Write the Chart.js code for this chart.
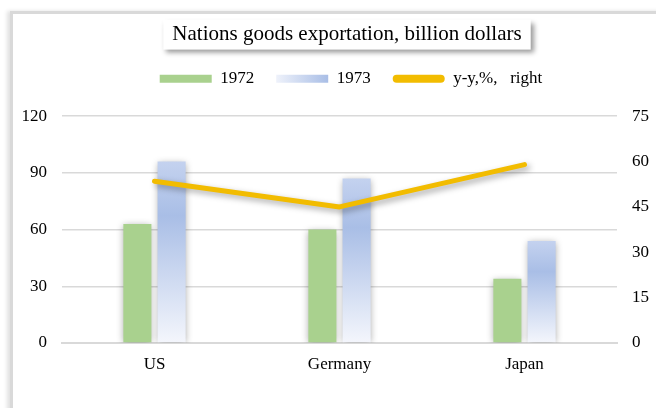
<!DOCTYPE html>
<html>
<head>
<meta charset="utf-8">
<script src="https://cdn.jsdelivr.net/npm/chart.js"></script>
<style>
  html, body { margin: 0; padding: 0; background: #fff; }
  #wrap { position: relative; width: 656px; height: 408px; overflow: hidden; }
  #frame {
    position: absolute; left: 10px; top: 11px; width: 700px; height: 500px;
    border-left: 3px solid #d9d9d9; border-top: 3px solid #d9d9d9;
    box-shadow: -3px 0 4px rgba(0,0,0,0.12);
  }
  canvas { position: absolute; left: 0; top: 0; }
</style>
</head>
<body>
<div id="wrap">
  <div id="frame"></div>
  <canvas id="chart" width="656" height="408"></canvas>
</div>
<script>
const categories = ['US', 'Germany', 'Japan'];
const exports1972 = [63, 60, 34];
const exports1973 = [96, 87, 54];
const yoyPercent = [53.5, 45, 59];
const leftTicks = [0, 30, 60, 90, 120];
const rightTicks = [0, 15, 30, 45, 60, 75];

const serif = "'Liberation Serif', 'Times New Roman', serif";
const green = '#a9d18e';
const gold = '#f2bc00';
const tickFont = { family: serif, size: 17 };

function blueGradient(context) {
    const chart = context.chart;
    const y = chart.scales.y;
    if (!y || !context.parsed) return '#b4c7e7';
    const top = y.getPixelForValue(context.parsed.y);
    const base = y.getPixelForValue(0);
    const g = chart.ctx.createLinearGradient(0, top, 0, base);
    g.addColorStop(0, '#c4d2ef');
    g.addColorStop(0.3, '#a9bee6');
    g.addColorStop(1, '#f4f6fc');
    return g;
}

// shadows under bars and the line
const shadowPlugin = {
    id: 'shadows',
    beforeDatasetDraw(chart, args) {
        const ctx = chart.ctx;
        ctx.save();
        ctx.shadowColor = 'rgba(0,0,0,0.35)';
        if (args.meta.type === 'line') {
            ctx.shadowBlur = 6;
            ctx.shadowOffsetX = 3;
            ctx.shadowOffsetY = 3;
        } else {
            ctx.shadowBlur = 7;
            ctx.shadowOffsetX = 0;
            ctx.shadowOffsetY = 1;
        }
    },
    afterDatasetDraw(chart) {
        chart.ctx.restore();
    }
};

// title box, legend spacing and horizontal offsets of title/legend
const titleBoxPlugin = {
    id: 'titleBox',
    afterInit(chart) {
        const lg = chart.legend;
        if (!lg) return;
        const fit = lg.fit;
        lg.fit = function () {
            fit.call(this);
            this.height += 19;
        };
    },
    afterLayout(chart) {
        chart.legend.left += 23;
        chart.legend.right += 23;
        chart.titleBlock.left += 19;
        chart.titleBlock.right += 19;
    },
    beforeDraw(chart) {
        const t = chart.titleBlock;
        if (!t) return;
        const ctx = chart.ctx;
        ctx.save();
        ctx.font = '21px ' + serif;
        const w = ctx.measureText(chart.options.plugins.title.text).width;
        const cx = (t.left + t.right) / 2;
        const cy = t.top + t.options.padding.top + 12.6;
        ctx.fillStyle = '#fff';
        ctx.shadowColor = 'rgba(0,0,0,0.4)';
        ctx.shadowBlur = 5;
        ctx.shadowOffsetX = 3;
        ctx.shadowOffsetY = 3;
        ctx.fillRect(cx - w / 2 - 9, cy - 15, w + 18, 30);
        ctx.restore();
    }
};

const ctx = document.getElementById('chart').getContext('2d');
new Chart(ctx, {
    data: {
        labels: categories,
        datasets: [
            {
                type: 'line',
                label: 'y-y,%,   right',
                data: yoyPercent,
                yAxisID: 'y2',
                borderColor: gold,
                backgroundColor: gold,
                borderWidth: 5,
                borderCapStyle: 'round',
                borderJoinStyle: 'round',
                pointRadius: 0,
                tension: 0,
                order: 0
            },
            {
                type: 'bar',
                label: '1972',
                data: exports1972,
                yAxisID: 'y',
                backgroundColor: green,
                categoryPercentage: 0.37,
                barPercentage: 0.82,
                order: 1
            },
            {
                type: 'bar',
                label: '1973',
                data: exports1973,
                yAxisID: 'y',
                backgroundColor: blueGradient,
                categoryPercentage: 0.37,
                barPercentage: 0.82,
                order: 1
            }
        ]
    },
    options: {
        responsive: false,
        animation: false,
        layout: { padding: 0 },
        plugins: {
            tooltip: { enabled: false },
            title: {
                display: true,
                text: 'Nations goods exportation, billion dollars',
                color: '#000',
                font: { family: serif, size: 21, weight: 'normal' },
                padding: { top: 22, bottom: 1 }
            },
            legend: {
                labels: {
                    color: '#000',
                    font: { family: serif, size: 17 },
                    boxWidth: 52,
                    boxHeight: 8,
                    padding: 22,
                    generateLabels(chart) {
                        const order = [1, 2, 0];
                        return order.map(i => {
                            const ds = chart.data.datasets[i];
                            let fill = ds.backgroundColor;
                            if (i === 2) {
                                const g = chart.ctx.createLinearGradient(275, 0, 328, 0);
                                g.addColorStop(0, '#f0f3fb');
                                g.addColorStop(1, '#a9bee6');
                                fill = g;
                            }
                            return {
                                text: ds.label,
                                fillStyle: i === 0 ? gold : fill,
                                strokeStyle: i === 0 ? gold : 'rgba(0,0,0,0)',
                                lineWidth: 0,
                                borderRadius: i === 0 ? 4 : 0,
                                fontColor: '#000',
                                datasetIndex: i,
                                hidden: false
                            };
                        });
                    }
                }
            }
        },
        scales: {
            x: {
                grid: { display: false, drawTicks: false },
                border: { display: true, color: '#d9d9d9', width: 2 },
                ticks: { color: '#000', font: tickFont, padding: 11 },
                afterFit(axis) { axis.height = 65; }
            },
            y: {
                position: 'left',
                min: 0,
                max: 120,
                afterBuildTicks(axis) { axis.ticks = leftTicks.map(v => ({ value: v })); },
                grid: { color: '#d9d9d9', lineWidth: 1.5, drawTicks: false },
                border: { display: false },
                ticks: { color: '#000', font: tickFont, padding: 15 },
                afterFit(axis) { axis.width = 62; }
            },
            y2: {
                position: 'right',
                min: 0,
                max: 75,
                afterBuildTicks(axis) { axis.ticks = rightTicks.map(v => ({ value: v })); },
                grid: { display: false, drawTicks: false },
                border: { display: false },
                ticks: { color: '#000', font: tickFont, padding: 15 },
                afterFit(axis) { axis.width = 39; }
            }
        }
    },
    plugins: [titleBoxPlugin, shadowPlugin]
});
</script>
</body>
</html>
